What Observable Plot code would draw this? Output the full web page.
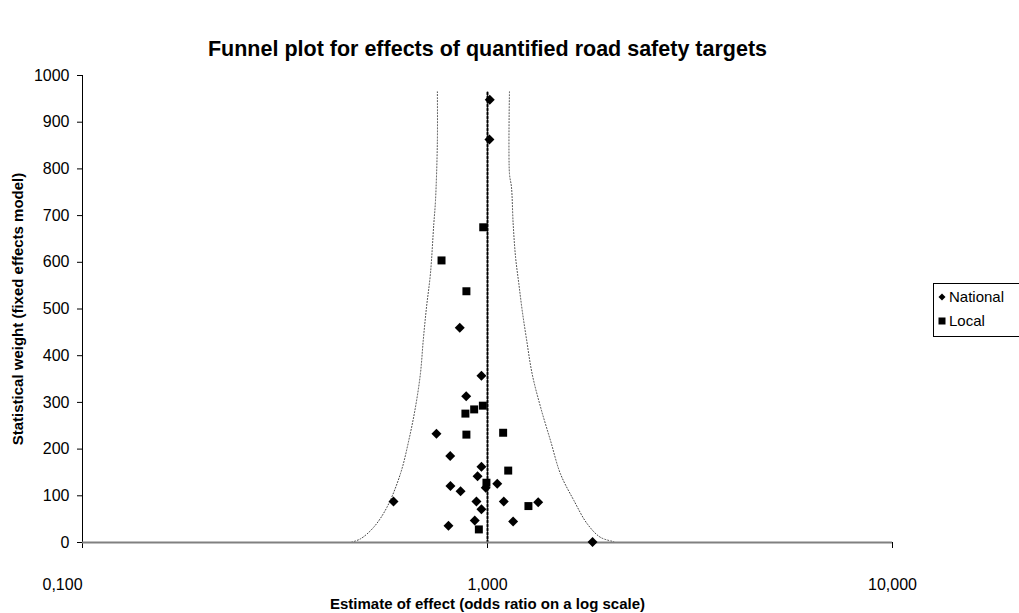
<!DOCTYPE html>
<html><head><meta charset="utf-8">
<script src="https://cdn.jsdelivr.net/npm/d3@7"></script>
<script src="https://cdn.jsdelivr.net/npm/@observablehq/plot@0.6"></script>
<style>
body{margin:0;background:#fff;font-family:"Liberation Sans",Arial,sans-serif;}
#wrap{position:relative;width:1019px;height:613px;overflow:hidden;}
.legend{position:absolute;left:933px;top:283px;width:90px;height:54px;border:1px solid #000;box-sizing:border-box;font-size:15px;color:#000;}
.legend .item{position:absolute;left:4px;display:flex;align-items:center;}
.legend svg{margin-right:3px;}
</style></head><body><div id="wrap"></div>
<script>
// National (diamonds): odds ratio, statistical weight
const nationalOR = [1.013,1.011,0.854,0.966,0.886,0.748,0.809,0.966,0.945,0.990,1.057,0.810,0.858,0.586,0.939,1.097,1.334,0.966,0.930,1.157,0.801,1.817];
const nationalW  = [948,863,460,357,313,233,185,162,142,117,126,121,110,88,88,88,86,71,47,45,36,1];
// Local (squares)
const localOR = [0.976,0.770,0.887,0.974,0.927,0.882,0.887,1.093,1.125,0.994,1.262,0.952];
const localW  = [675,604,538,293,285,276,231,235,154,128,78,28];
// Funnel boundaries
const leftOR  = [0.752,0.752,0.744,0.737,0.723,0.707,0.694,0.683,0.664,0.639,0.610,0.565,0.524,0.486,0.459];
const leftW   = [965,857,732,683,576,504,433,362,290,218,148,76,33,8,0];
const rightOR = [1.133,1.133,1.146,1.157,1.173,1.195,1.218,1.248,1.289,1.352,1.431,1.514,1.634,1.763,1.901,2.050];
const rightW  = [965,790,761,683,611,554,497,436,361,290,218,147,90,40,11,2];
const centerOR = [1,1];
const centerW = [0,965];
const xTicks = [0.1,1,10];
const xTickLabels = ["0,100","1,000","10,000"];
const yTicks = [0,100,200,300,400,500,600,700,800,900,1000];
const title = "Funnel plot for effects of quantified road safety targets";
const xTitle = "Estimate of effect (odds ratio on a log scale)";
const yTitle = "Statistical weight (fixed effects model)";
const legendLabels = ["National","Local"];

const zip = (a,b) => a.map((v,i)=>({or:v,w:b[i]}));
const national = zip(nationalOR,nationalW);
const local = zip(localOR,localW);
const left = zip(leftOR,leftW);
const right = zip(rightOR,rightW);
const center = zip(centerOR,centerW);
const fmtX = d => xTickLabels[xTicks.indexOf(d)];

const chart = Plot.plot({
  width:1019, height:613,
  marginLeft:82, marginRight:127, marginTop:75, marginBottom:71,
  style:{fontFamily:"'Liberation Sans', Arial, sans-serif", fontSize:"16px", color:"#000", background:"#fff"},
  x:{type:"log", domain:[0.1,10]},
  y:{domain:[0,1000]},
  marks:[
    Plot.axisX({ticks:xTicks, tickFormat:()=>"", tickSize:6, label:null}),
    Plot.axisX({ticks:xTicks.slice(0,1), tickFormat:fmtX, tickSize:0, tickPadding:36, dx:-20, label:null, fontSize:16}),
    Plot.axisX({ticks:xTicks.slice(1), tickFormat:fmtX, tickSize:0, tickPadding:36, label:null, fontSize:16}),
    Plot.axisY({ticks:yTicks, tickFormat:d=>String(d), tickSize:5, tickPadding:8, label:null, fontSize:16}),
    Plot.line(left,{x:"or",y:"w",stroke:"#444",strokeWidth:1,strokeDasharray:"1,2",curve:"catmull-rom"}),
    Plot.line(right,{x:"or",y:"w",stroke:"#444",strokeWidth:1,strokeDasharray:"1,2",curve:"catmull-rom"}),
    Plot.line(center,{x:"or",y:"w",stroke:"#000",strokeWidth:2,strokeDasharray:"2,2"}),
    Plot.ruleX([0.1],{stroke:"#000",strokeWidth:1}),
    Plot.ruleY([0],{stroke:"#808080",strokeWidth:2}),
    Plot.dot(national,{x:"or",y:"w",symbol:"diamond2",r:4.5,fill:"#000",stroke:null}),
    Plot.dot(local,{x:"or",y:"w",symbol:"square",r:4.5,fill:"#000",stroke:null}),
    Plot.text([title],{frameAnchor:"top",dy:-35,fontSize:21.5,fontWeight:"bold",text:d=>d}),
    Plot.text([xTitle],{frameAnchor:"bottom",lineAnchor:"middle",dy:62,fontSize:15,fontWeight:"bold",text:d=>d}),
    Plot.text([yTitle],{frameAnchor:"left",dx:-64,rotate:-90,textAnchor:"middle",fontSize:15,fontWeight:"bold",text:d=>d})
  ]
});
const wrap = document.getElementById("wrap");
wrap.appendChild(chart);
const lg = document.createElement("div");
lg.className="legend";
lg.innerHTML = `<div class="item" style="top:4px"><svg width="8" height="8" viewBox="-4 -4 8 8"><path d="M0,-3.5L3.5,0L0,3.5L-3.5,0Z" fill="#000"/></svg><span>${legendLabels[0]}</span></div>
<div class="item" style="top:28px"><svg width="8" height="8" viewBox="-4 -4 8 8"><rect x="-3.5" y="-3.5" width="7" height="7" fill="#000"/></svg><span>${legendLabels[1]}</span></div>`;
wrap.appendChild(lg);
</script></body></html>
